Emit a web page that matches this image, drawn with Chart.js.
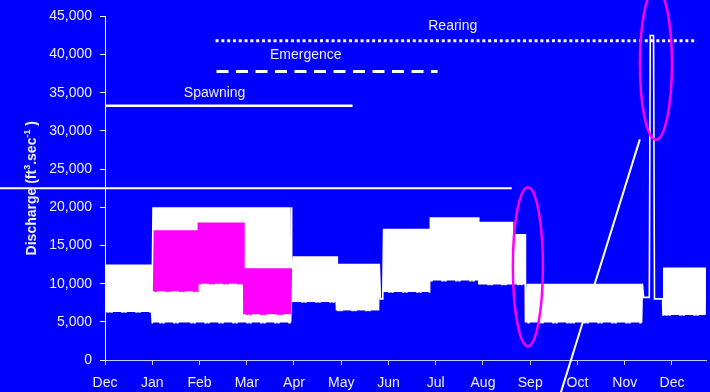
<!DOCTYPE html>
<html>
<head>
<meta charset="utf-8">
<script src="https://cdn.jsdelivr.net/npm/chart.js@4.4.1/dist/chart.umd.min.js"></script>
<style>
  html, body { margin: 0; padding: 0; background: #0000ff; }
  canvas { display: block; }
</style>
</head>
<body>
<canvas id="flow" width="710" height="392"></canvas>
<script>
// Month axis: 0 = 1 December, 12 = 1 December of the following year
const monthLabels = ['Dec', 'Jan', 'Feb', 'Mar', 'Apr', 'May', 'Jun', 'Jul', 'Aug', 'Sep', 'Oct', 'Nov', 'Dec'];

// Daily peaking operation: each block has a daily low and a daily peak (cfs)
const blockStart = [0.00, 1.00, 3.94, 4.90, 5.88, 6.87, 7.91, 8.61, 8.89, 11.81];
const blockEnd   = [1.00, 3.94, 4.90, 5.82, 6.87, 7.91, 8.61, 8.89, 11.39, 12.72];
const blockLow   = [6300, 4900, 7600, 6500, 8900, 10400, 9900, 9900, 4900, 5900];
const blockHigh  = [12500, 20000, 13600, 12600, 17200, 18700, 18100, 16500, 10000, 12100];

// Steady releases and the November flushing pulse
const steadyX = [5.83, 5.87, 11.40, 11.52, 11.54, 11.61, 11.63, 11.80];
const steadyY = [8000, 8000, 8200, 8200, 42500, 42500, 8000, 8000];

// Alternative winter operation (Jan - Mar)
const altStart = [1.03, 1.96, 2.94];
const altEnd   = [1.96, 2.94, 3.93];
const altLow   = [9000, 10000, 6000];
const altHigh  = [17000, 18000, 12000];

// Life-stage flow levels
const stageNames  = ['Spawning', 'Emergence', 'Rearing'];
const stageLevel  = [33300, 37800, 41800];
const stageFrom   = [0.00, 2.36, 2.34];
const stageTo     = [5.24, 7.04, 12.53];
const stageLabelX = [2.32, 4.25, 7.36];
const stageLabelY = [35000, 39900, 43700];

// Powerhouse capacity line and the call-out pointer
const capacityLevel = 22500;
const capacityTo = 8.61;
const pointerX = [11.32, 9.56];
const pointerY = [28900, -6000];

// Circled events
const ringX = [8.95, 11.66];
const ringY = [12230, 38760];
const ringHalfWidth = [0.318, 0.339];
const ringHalfHeight = [10400, 9900];

const DAY = 1 / 30.4;

function dailyCycle(starts, ends, lows, highs) {
  const pts = [];
  for (let i = 0; i < starts.length; i++) {
    for (let t = starts[i]; t < ends[i] - 1e-9; t += DAY) {
      pts.push({ x: t, y: lows[i] });
      pts.push({ x: t + DAY / 2, y: highs[i] });
    }
  }
  return pts;
}

const mainFlow = dailyCycle(blockStart, blockEnd, blockLow, blockHigh)
  .concat(steadyX.map((x, i) => ({ x: x, y: steadyY[i] })))
  .sort((a, b) => a.x - b.x);

const altFlow = dailyCycle(altStart, altEnd, altLow, altHigh);

const stageDash = [[], [12, 7.5], [3, 2.8]];
const stageWidth = [2.5, 3, 3];

const stageSets = stageNames.map((name, i) => ({
  label: name,
  data: [{ x: stageFrom[i], y: stageLevel[i] }, { x: stageTo[i], y: stageLevel[i] }],
  borderColor: '#ffffff',
  borderWidth: stageWidth[i],
  borderDash: stageDash[i],
  borderCapStyle: 'butt',
  pointRadius: 0,
  order: 0
}));

const TXT = '#f0f0ff';
Chart.defaults.font.family = "'Liberation Sans', Arial, sans-serif";

const overlay = {
  id: 'overlay',
  afterDatasetsDraw(chart) {
    const ctx = chart.ctx;
    const xs = chart.scales.x, ys = chart.scales.y;
    ctx.save();

    // capacity line, running out to the left edge of the canvas
    ctx.strokeStyle = '#ffffff';
    ctx.lineWidth = 2;
    const yc = ys.getPixelForValue(capacityLevel);
    ctx.beginPath();
    ctx.moveTo(0, yc);
    ctx.lineTo(xs.getPixelForValue(capacityTo), yc);
    ctx.stroke();

    // pointer line
    ctx.beginPath();
    ctx.moveTo(xs.getPixelForValue(pointerX[0]), ys.getPixelForValue(pointerY[0]));
    ctx.lineTo(xs.getPixelForValue(pointerX[1]), ys.getPixelForValue(pointerY[1]));
    ctx.stroke();

    // rings around events
    ctx.strokeStyle = '#ff00ff';
    ctx.lineWidth = 2.5;
    for (let i = 0; i < ringX.length; i++) {
      const cx = xs.getPixelForValue(ringX[i]);
      const cy = ys.getPixelForValue(ringY[i]);
      const rx = Math.abs(xs.getPixelForValue(ringX[i] + ringHalfWidth[i]) - cx);
      const ry = Math.abs(ys.getPixelForValue(ringY[i] + ringHalfHeight[i]) - cy);
      ctx.beginPath();
      ctx.ellipse(cx, cy, rx, ry, 0, 0, Math.PI * 2);
      ctx.stroke();
    }

    // stage labels
    ctx.fillStyle = TXT;
    ctx.font = "14px 'Liberation Sans', Arial, sans-serif";
    ctx.textAlign = 'center';
    ctx.textBaseline = 'middle';
    stageNames.forEach((name, i) => {
      ctx.fillText(name, xs.getPixelForValue(stageLabelX[i]), ys.getPixelForValue(stageLabelY[i]));
    });

    // y-axis title with superscripts
    const parts = [['Discharge (ft', false], ['3', true], ['.sec', false], ['-1', true], [' )', false]];
    const bigFont = "bold 14px 'Liberation Sans', Arial, sans-serif";
    const smallFont = "bold 9px 'Liberation Sans', Arial, sans-serif";
    let total = 0;
    parts.forEach(p => { ctx.font = p[1] ? smallFont : bigFont; total += ctx.measureText(p[0]).width; });
    const midY = (chart.chartArea.top + chart.chartArea.bottom) / 2;
    ctx.translate(36, midY);
    ctx.rotate(-Math.PI / 2);
    ctx.textAlign = 'left';
    ctx.textBaseline = 'alphabetic';
    let pos = -total / 2;
    parts.forEach(p => {
      ctx.font = p[1] ? smallFont : bigFont;
      ctx.fillText(p[0], pos, p[1] ? -6 : 0);
      pos += ctx.measureText(p[0]).width;
    });
    ctx.restore();
  }
};

new Chart(document.getElementById('flow'), {
  type: 'line',
  data: {
    datasets: stageSets.concat([
      {
        label: 'Alternative',
        data: altFlow,
        borderColor: '#ff00ff',
        borderWidth: 1.6,
        pointRadius: 0,
        tension: 0,
        order: 1
      },
      {
        label: 'Discharge',
        data: mainFlow,
        borderColor: '#ffffff',
        borderWidth: 1.6,
        pointRadius: 0,
        tension: 0,
        order: 2
      }
    ])
  },
  options: {
    responsive: false,
    animation: false,
    devicePixelRatio: 1,
    parsing: false,
    layout: { padding: { left: 0, right: 4, top: 14, bottom: 0 } },
    plugins: { legend: { display: false }, tooltip: { enabled: false } },
    scales: {
      x: {
        type: 'linear',
        min: 0,
        max: 12.72,
        afterFit: s => { s.height = 32; },
        afterBuildTicks: s => { s.ticks = monthLabels.map((_, i) => ({ value: i })); },
        ticks: {
          color: TXT,
          font: { size: 14 },
          padding: 10,
          maxRotation: 0,
          autoSkip: false,
          callback: v => monthLabels[v]
        },
        grid: { drawOnChartArea: false, drawTicks: true, tickLength: 5, color: '#c8c8ff' },
        border: { display: true, color: '#c8c8ff', width: 1 }
      },
      y: {
        min: 0,
        max: 45000,
        afterFit: s => { s.width = 105; },
        ticks: {
          stepSize: 5000,
          color: TXT,
          font: { size: 14 },
          padding: 8,
          callback: v => v.toLocaleString('en-US')
        },
        grid: { drawOnChartArea: false, drawTicks: true, tickLength: 5, color: '#ffffff' },
        border: { display: true, color: '#ffffff', width: 1 }
      }
    }
  },
  plugins: [overlay]
});
</script>
</body>
</html>
